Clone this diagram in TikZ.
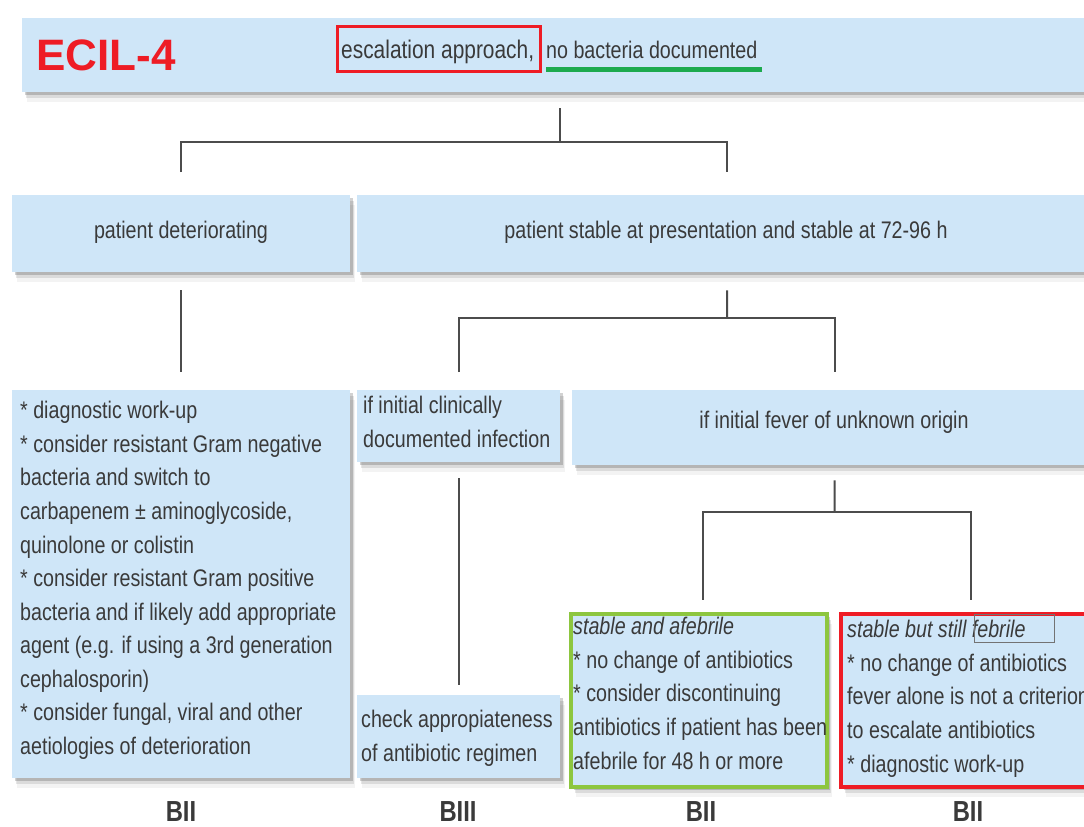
\documentclass[tikz,border=0pt]{standalone}
\usepackage{fontspec}
\setmainfont{Liberation Sans}[FakeStretch=0.82]
\newfontfamily\ecilfont{Liberation Sans}
\usetikzlibrary{shadows,calc}
\definecolor{boxblue}{HTML}{CFE6F8}
\definecolor{txtgray}{HTML}{3A3A3A}
\definecolor{linegray}{HTML}{4C4C4C}
\definecolor{mkred}{HTML}{EE1C25}
\definecolor{mkgreen}{HTML}{1DAA4F}
\definecolor{lightgreen}{HTML}{8DC63F}
\begin{document}
\begin{tikzpicture}[x=1pt,y=-1pt,
  box/.style={fill=boxblue, draw=none, inner sep=0pt, anchor=north west,
    drop shadow={shadow xshift=3pt, shadow yshift=-3pt, opacity=0.22, fill=black!80},
    drop shadow={shadow xshift=4pt, shadow yshift=-6pt, opacity=0.12, fill=black!80},
    drop shadow={shadow xshift=5pt, shadow yshift=-10pt, opacity=0.06, fill=black!80}},
  conn/.style={draw=linegray, line width=2pt},
  txt/.style={text=txtgray, font=\fontsize{24}{33.6}\selectfont, inner sep=0pt},
  ltxt/.style={txt, align=left, anchor=north west},
  grade/.style={text=txtgray, font=\fontsize{29}{29}\selectfont\bfseries, inner sep=0pt},
  annot/.style={inner sep=0pt, anchor=north west}]
\useasboundingbox (0,0) rectangle (1084,827);
\fill[white] (0,0) rectangle (1084,827);

% top
\node[box, minimum width=1075pt, minimum height=74pt] (top) at (22,18) {};
\node[anchor=west, text=mkred, font=\ecilfont\bfseries\fontsize{44}{44}\selectfont, inner sep=0pt] (ecil) at (36,55) {ECIL-4};
\node[txt, anchor=base west, font=\fontsize{25.5}{30}\selectfont] (title) at (341,58) {escalation approach,};
\node[txt, anchor=base west] (title2) at (546,58) {no bacteria documented};
\node[annot, draw=mkred, line width=3pt, minimum width=203pt, minimum height=45pt] (redmark) at (335.5,24.5) {};
\node[annot, fill=mkgreen, minimum width=216pt, minimum height=5pt] (greenline) at (546,67) {};

% level 2
\node[box, minimum width=338pt, minimum height=77pt] (pd) at (12,195) {};
\node[txt] (pdt) at (181,232) {patient deteriorating};
\node[box, minimum width=740pt, minimum height=77pt] (ps) at (357,195) {};
\node[txt] (pst) at (726,232) {patient stable at presentation and stable at 72-96 h};

% level 3
\node[box, minimum width=338pt, minimum height=388pt] (big) at (12,390) {};
\node[ltxt] (bigt) at (20,401) {* diagnostic work-up\\* consider resistant Gram negative\\bacteria and switch to\\carbapenem ± aminoglycoside,\\quinolone or colistin\\* consider resistant Gram positive\\bacteria and if likely add appropriate\\agent (e.g. if using a 3rd generation\\cephalosporin)\\* consider fungal, viral and other\\aetiologies of deterioration};

\node[box, minimum width=203pt, minimum height=72pt] (cl) at (357,390) {};
\node[ltxt] (clt) at (363,396) {if initial clinically\\documented infection};
\node[box, minimum width=525pt, minimum height=75pt] (fv) at (572,390) {};
\node[txt] (fvt) at (834,422) {if initial fever of unknown origin};

\node[box, minimum width=203pt, minimum height=83pt] (ck) at (357,695) {};
\node[ltxt] (ckt) at (361,710) {check appropiateness\\of antibiotic regimen};

% level 4
\node[box, draw=lightgreen, line width=4pt, minimum width=256pt, minimum height=173pt] (gb) at (568.5,611.5) {};
\begin{scope}
\clip ([shift={(2pt,-2pt)}]gb.north west) rectangle ([shift={(-2pt,2pt)}]gb.south east);
\node[ltxt] (gbt) at (573,617) {\textit{stable and afebrile}\\* no change of antibiotics\\* consider discontinuing\\antibiotics if patient has been\\afebrile for 48 h or more};
\end{scope}
\node[box, draw=mkred, line width=4pt, minimum width=260pt, minimum height=173pt] (rb) at (838.5,611.5) {};
\node[ltxt] (rbt) at (847,620) {\textit{stable but still febrile}\\* no change of antibiotics\\fever alone is not a criterion\\to escalate antibiotics\\* diagnostic work-up};
\node[annot, draw=black!55, line width=1.2pt, minimum width=80pt, minimum height=28pt] (febmark) at (974,614) {};

% grades
\node[grade] (g1) at (181,812) {BII};
\node[grade] (g2) at (458,812) {BIII};
\node[grade] (g3) at (701,812) {BII};
\node[grade] (g4) at (968,812) {BII};

% connectors
\coordinate (j1) at (560,142);
\draw[conn] (j1 |- top.south) ++(0,16) -- (j1);
\draw[conn] ([yshift=23pt]pd.north) |- (j1) -| ([yshift=23pt]ps.north);
\draw[conn] ([yshift=-18pt]pd.south) -- ([yshift=18pt]big.north);
\coordinate (j2) at (727,318);
\draw[conn] ([yshift=-18pt]ps.south) -- (j2);
\draw[conn] ([yshift=18pt]cl.north) |- (j2) -| ([yshift=18pt]fv.north);
\draw[conn] ([yshift=-16pt]cl.south) -- ([yshift=10pt]ck.north);
\coordinate (j3) at (834.5,512);
\draw[conn] ([yshift=-15pt]fv.south) -- (j3);
\draw[conn] ([xshift=4pt,yshift=12pt]gb.north) |- (j3) -| ([yshift=12pt]rb.north);
\end{tikzpicture}
\end{document}
